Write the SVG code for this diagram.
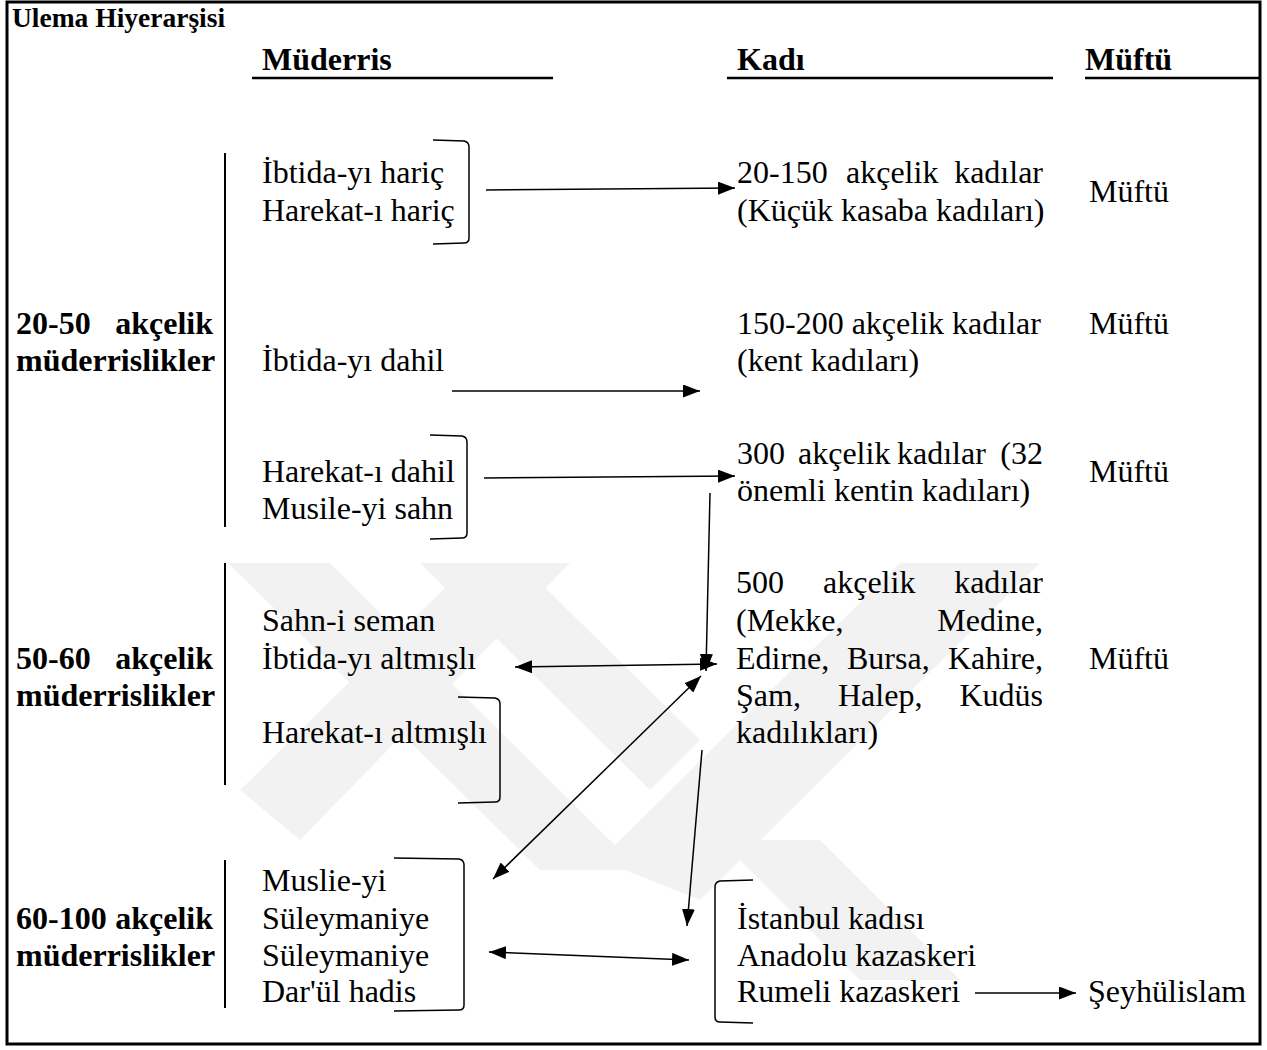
<svg xmlns="http://www.w3.org/2000/svg" width="1267" height="1050" viewBox="0 0 1267 1050">
<defs>
<marker id="ah" viewBox="0 0 17 13" refX="17" refY="6.5" markerWidth="17" markerHeight="13" markerUnits="userSpaceOnUse" orient="auto-start-reverse">
<path d="M0,0 L17,6.5 L0,13 z" fill="#000"/>
</marker>
<style>
text{font-family:"Liberation Serif","Times New Roman",serif;font-size:32px;fill:#000}
.b{font-weight:bold}
.t{font-size:27.5px;font-weight:bold}
.c{fill:none;stroke:#000;stroke-width:1.5;marker-end:url(#ah)}
.d{marker-start:url(#ah)}
.br{fill:none;stroke:#000;stroke-width:1.5}
.v{stroke:#000;stroke-width:2}
.u{stroke:#000;stroke-width:2.5}
.wm{fill:#f2f2f2}
</style>
</defs>
<rect width="1267" height="1050" fill="#fff"/>
<g id="watermark">
<polygon class="wm" points="228,563 330,563 640,870 540,870"/>
<polygon class="wm" points="420,563 520,563 700,740 650,790"/>
<polygon class="wm" points="240,790 470,563 570,563 300,840"/>
<polygon class="wm" points="600,860 900,563 1040,563 700,900"/>
<polygon class="wm" points="720,840 820,840 960,980 860,980"/>
</g>
<rect x="7" y="2" width="1253" height="1042" fill="none" stroke="#000" stroke-width="3"/>
<g id="title"><text class="t" x="12" y="27">Ulema Hiyerarşisi</text></g>
<g id="hdr-muderris"><text class="b" x="262" y="70">Müderris</text><line class="u" x1="252" y1="78" x2="553" y2="78"/></g>
<g id="hdr-kadi"><text class="b" x="737" y="70">Kadı</text><line class="u" x1="727" y1="78" x2="1053" y2="78"/></g>
<g id="hdr-muftu"><text class="b" x="1085" y="70">Müftü</text><line class="u" x1="1085" y1="78" x2="1260" y2="78"/></g>

<g id="grp-20-50">
<text class="b" x="16" y="334">20-50</text><text class="b" x="213" y="334" text-anchor="end">akçelik</text>
<text class="b" x="16" y="371">müderrislikler</text>
<line class="v" x1="225" y1="153" x2="225" y2="527"/>
</g>
<g id="grp-50-60">
<text class="b" x="16" y="669">50-60</text><text class="b" x="213" y="669" text-anchor="end">akçelik</text>
<text class="b" x="16" y="706">müderrislikler</text>
<line class="v" x1="225" y1="563" x2="225" y2="785"/>
</g>
<g id="grp-60-100">
<text class="b" x="16" y="929">60-100</text><text class="b" x="213" y="929" text-anchor="end">akçelik</text>
<text class="b" x="16" y="966">müderrislikler</text>
<line class="v" x1="225" y1="860" x2="225" y2="1008"/>
</g>

<g id="m-haric">
<text x="262" y="183">İbtida-yı hariç</text>
<text x="262" y="221">Harekat-ı hariç</text>
<path class="br" d="M433,140 L464,141 Q469,142 469,147 L469,238 Q469,243 464,243 L433,244"/>
</g>
<g id="m-ibtida-dahil"><text x="262" y="371">İbtida-yı dahil</text></g>
<g id="m-harekat-dahil">
<text x="262" y="482">Harekat-ı dahil</text>
<text x="262" y="519">Musile-yi sahn</text>
<path class="br" d="M430,435 L462,436 Q467,437 467,442 L467,533 Q467,538 462,538 L430,539"/>
</g>
<g id="m-sahn">
<text x="262" y="631">Sahn-i seman</text>
<text x="262" y="669">İbtida-yı altmışlı</text>
</g>
<g id="m-harekat-altmisli">
<text x="262" y="743">Harekat-ı altmışlı</text>
<path class="br" d="M458,697 L495,698 Q500,699 500,704 L500,797 Q500,802 495,802 L458,803"/>
</g>
<g id="m-suleymaniye">
<text x="262" y="891">Muslie-yi</text>
<text x="262" y="929">Süleymaniye</text>
<text x="262" y="966">Süleymaniye</text>
<text x="262" y="1002">Dar'ül hadis</text>
<path class="br" d="M394,858 L459,859 Q464,860 464,865 L464,1005 Q464,1010 459,1010 L394,1011"/>
</g>

<g id="k-20-150">
<text x="737" y="183">20-150</text><text x="846" y="183">akçelik</text><text x="1043" y="183" text-anchor="end">kadılar</text>
<text x="737" y="221">(Küçük kasaba kadıları)</text>
</g>
<g id="k-150-200">
<text x="737" y="334">150-200 akçelik kadılar</text>
<text x="737" y="371">(kent kadıları)</text>
</g>
<g id="k-300">
<text x="737" y="464">300</text><text x="798" y="464">akçelik</text><text x="897" y="464">kadılar</text><text x="1043" y="464" text-anchor="end">(32</text>
<text x="737" y="501">önemli kentin kadıları)</text>
</g>
<g id="k-500">
<text x="736" y="593">500</text><text x="823" y="593">akçelik</text><text x="1043" y="593" text-anchor="end">kadılar</text>
<text x="736" y="631">(Mekke,</text><text x="1043" y="631" text-anchor="end">Medine,</text>
<text x="736" y="669">Edirne,</text><text x="847" y="669">Bursa,</text><text x="1043" y="669" text-anchor="end">Kahire,</text>
<text x="736" y="706">Şam,</text><text x="838" y="706">Halep,</text><text x="1043" y="706" text-anchor="end">Kudüs</text>
<text x="736" y="743">kadılıkları)</text>
</g>
<g id="k-top">
<text x="737" y="929">İstanbul kadısı</text>
<text x="737" y="966">Anadolu kazaskeri</text>
<text x="737" y="1002">Rumeli kazaskeri</text>
<path class="br" d="M753,880 L720,881 Q715,882 715,887 L715,1017 Q715,1022 720,1022 L753,1023"/>
</g>

<g id="f1"><text x="1089" y="202">Müftü</text></g>
<g id="f2"><text x="1089" y="334">Müftü</text></g>
<g id="f3"><text x="1089" y="482">Müftü</text></g>
<g id="f4"><text x="1089" y="669">Müftü</text></g>
<g id="seyhulislam"><text x="1088" y="1002">Şeyhülislam</text></g>

<g id="connectors">
<path class="c" d="M486,190 L735,188"/>
<path class="c" d="M452,391 L700,391"/>
<path class="c" d="M484,478 L735,476"/>
<path class="c" d="M710,493 L706,671"/>
<path class="c d" d="M515,667 L717,664"/>
<path class="c d" d="M493,879 L701,676"/>
<path class="c" d="M702,750 L687,926"/>
<path class="c d" d="M489,952 L689,960"/>
<path class="c" d="M975,993 L1076,993"/>
</g>
</svg>
